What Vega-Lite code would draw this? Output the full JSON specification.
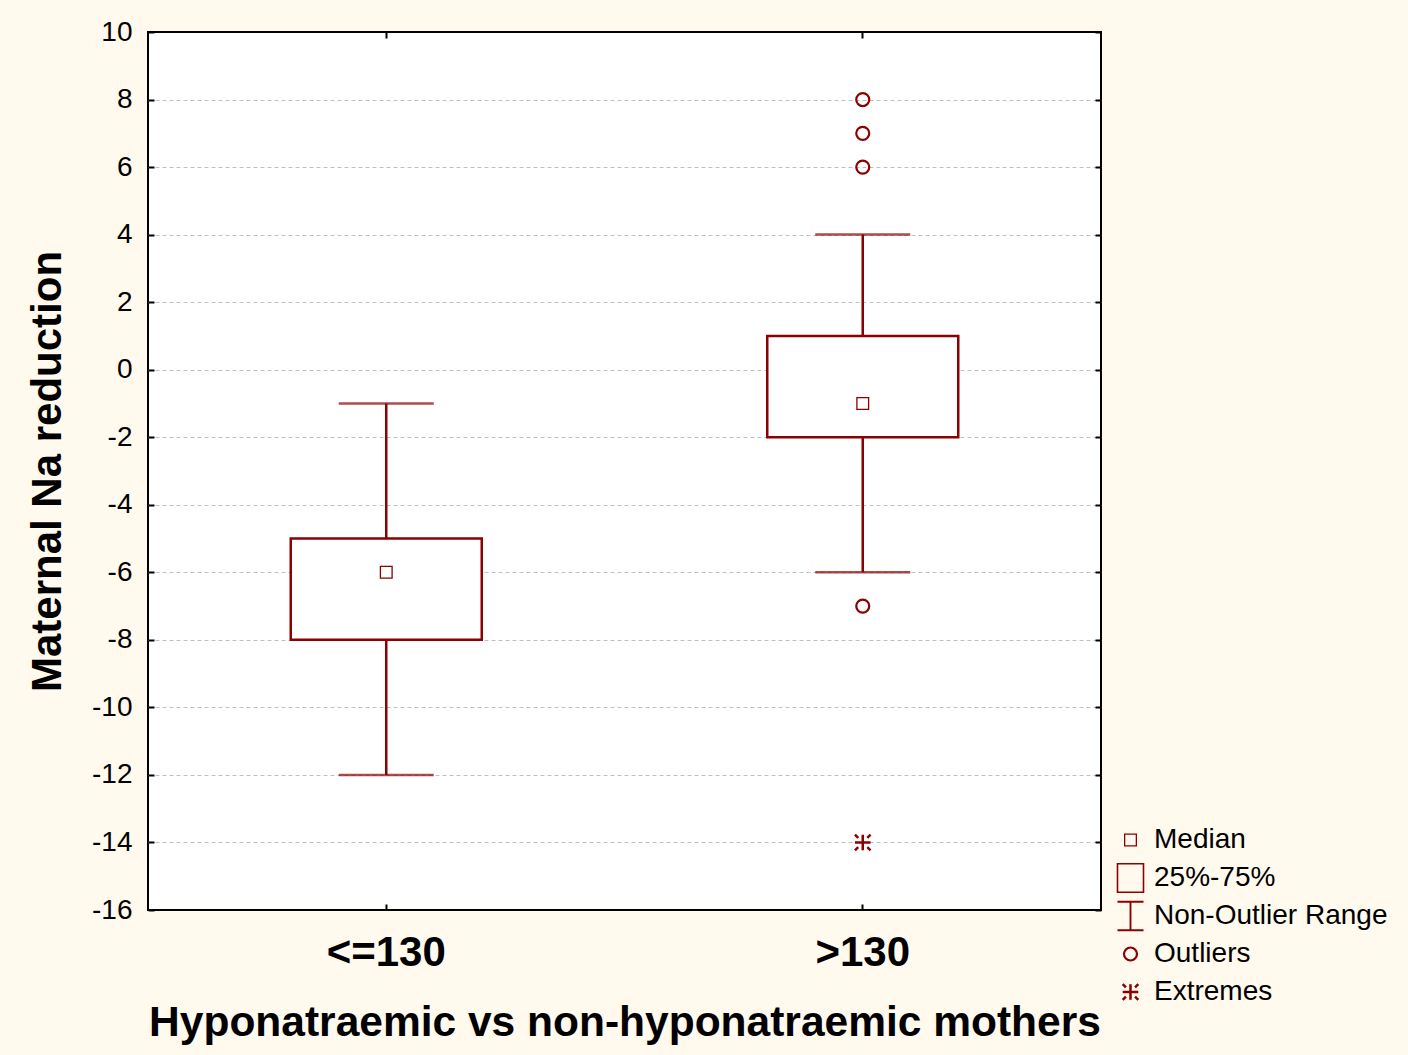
{
  "$schema": "https://vega.github.io/schema/vega-lite/v6.json",
  "width": 953,
  "height": 878,
  "autosize": "none",
  "padding": {"left": 148, "top": 32, "right": 307, "bottom": 145},
  "background": "#FFF9EE",
  "config": {
    "font": "Liberation Sans",
    "view": {"stroke": "black", "strokeWidth": 2, "fill": "white"},
    "axis": {"domain": false, "tickColor": "black", "tickWidth": 2, "labelColor": "black", "titleColor": "black"}
  },
  "datasets": {
    "boxes": [
      {"group": "<=130", "lo": -12, "q1": -8, "med": -6, "q3": -5, "hi": -1},
      {"group": ">130", "lo": -6, "q1": -2, "med": -1, "q3": 1, "hi": 4}
    ],
    "points": [
      {"group": "<=130", "value": -6, "kind": "Median"},
      {"group": ">130", "value": -1, "kind": "Median"},
      {"group": ">130", "value": 8, "kind": "Outliers"},
      {"group": ">130", "value": 7, "kind": "Outliers"},
      {"group": ">130", "value": 6, "kind": "Outliers"},
      {"group": ">130", "value": -7, "kind": "Outliers"},
      {"group": ">130", "value": -14, "kind": "Extremes"}
    ]
  },
  "layer": [
    {
      "data": {"name": "boxes"},
      "mark": {"type": "rule", "color": "#8B0000", "strokeWidth": 2.5},
      "encoding": {
        "x": {"field": "group", "type": "nominal", "sort": ["<=130", ">130"],
          "scale": {"domain": ["<=130", ">130"], "paddingInner": 0, "paddingOuter": 0},
          "axis": {"orient": "bottom", "title": "Hyponatraemic vs non-hyponatraemic mothers", "labelAngle": 0,
            "labelFontSize": 42, "labelFontWeight": "bold", "labelPadding": 28, "tickSize": -6,
            "titleFontSize": 42.5, "titleFontWeight": "bold", "titlePadding": 28}},
        "y": {"field": "lo", "type": "quantitative",
          "scale": {"domain": [-16, 10], "nice": false, "zero": false},
          "axis": {"orient": "left", "title": "Maternal Na reduction", "values": [-16, -14, -12, -10, -8, -6, -4, -2, 0, 2, 4, 6, 8, 10],
            "labelExpr": "replace(datum.label, '\u2212', '-')",
            "labelFontSize": 28, "labelPadding": 22, "tickSize": -6,
            "grid": true, "gridColor": "#c0c0c0", "gridDash": [4, 3], "gridWidth": 1,
            "gridOpacity": {"condition": {"test": "datum.value == 10 || datum.value == -16", "value": 0}, "value": 1},
            "titleFontSize": 42, "titleFontWeight": "bold", "titlePadding": 22}},
        "y2": {"field": "hi"}
      }
    },
    {
      "data": {"name": "boxes"},
      "mark": {"type": "tick", "color": "#8B0000", "size": 95, "thickness": 2.5},
      "encoding": {
        "x": {"field": "group", "type": "nominal", "axis": null},
        "y": {"field": "lo", "type": "quantitative", "axis": null}
      }
    },
    {
      "data": {"name": "boxes"},
      "mark": {"type": "tick", "color": "#8B0000", "size": 95, "thickness": 2.5},
      "encoding": {
        "x": {"field": "group", "type": "nominal", "axis": null},
        "y": {"field": "hi", "type": "quantitative", "axis": null}
      }
    },
    {
      "data": {"name": "boxes"},
      "mark": {"type": "bar", "size": 191, "fill": "white", "stroke": "#8B0000", "strokeWidth": 2.5},
      "encoding": {
        "x": {"field": "group", "type": "nominal",
          "axis": {"orient": "top", "labels": false, "title": null, "tickSize": -6}},
        "y": {"field": "q1", "type": "quantitative",
          "axis": {"orient": "right", "labels": false, "title": null, "grid": false, "tickSize": -6, "values": [-16, -14, -12, -10, -8, -6, -4, -2, 0, 2, 4, 6, 8, 10]}},
        "y2": {"field": "q3"}
      }
    },
    {
      "data": {"name": "points"},
      "mark": {"type": "point", "filled": false, "size": 676, "color": "#8B0000", "opacity": 1},
      "encoding": {
        "x": {"field": "group", "type": "nominal", "axis": null},
        "y": {"field": "value", "type": "quantitative", "axis": null},
        "shape": {"field": "kind", "type": "nominal",
          "scale": {"domain": ["Median", "25%-75%", "Non-Outlier Range", "Outliers", "Extremes"],
            "range": [
              "M-0.45,-0.45H0.45V0.45H-0.45Z",
              "M-1,-1.1H1V1.1H-1Z",
              "M-1,-1.1H1M0,-1.1V1.1M-1,1.1H1",
              "M0.5,0A0.5,0.5,0,1,1,-0.5,0A0.5,0.5,0,1,1,0.5,0",
              "M-0.6,0H0.6M0,-0.6V0.6M-0.6,-0.6L-0.35,-0.35M0.6,-0.6L0.35,-0.35M-0.6,0.6L-0.35,0.35M0.6,0.6L0.35,0.35"
            ]},
          "legend": {"orient": "none", "legendX": 968, "legendY": 792, "title": null,
            "labelFontSize": 28, "labelColor": "black", "labelLimit": 400, "symbolSize": 676,
            "symbolStrokeColor": "#8B0000", "symbolFillColor": "transparent", "symbolOpacity": 1,
            "rowPadding": 6, "clipHeight": 32, "labelOffset": 9}},
        "strokeWidth": {"field": "kind", "type": "nominal",
          "scale": {"domain": ["Median", "25%-75%", "Non-Outlier Range", "Outliers", "Extremes"],
            "range": [1.3, 2.5, 2.5, 1.3, 1.3]},
          "legend": {"orient": "none", "legendX": 968, "legendY": 792, "title": null,
            "labelFontSize": 28, "labelColor": "black", "labelLimit": 400, "symbolSize": 676,
            "symbolStrokeColor": "#8B0000", "symbolFillColor": "transparent", "symbolOpacity": 1,
            "rowPadding": 6, "clipHeight": 32, "labelOffset": 9}}
      }
    }
  ],
  "resolve": {"axis": {"x": "independent", "y": "independent"}}
}
